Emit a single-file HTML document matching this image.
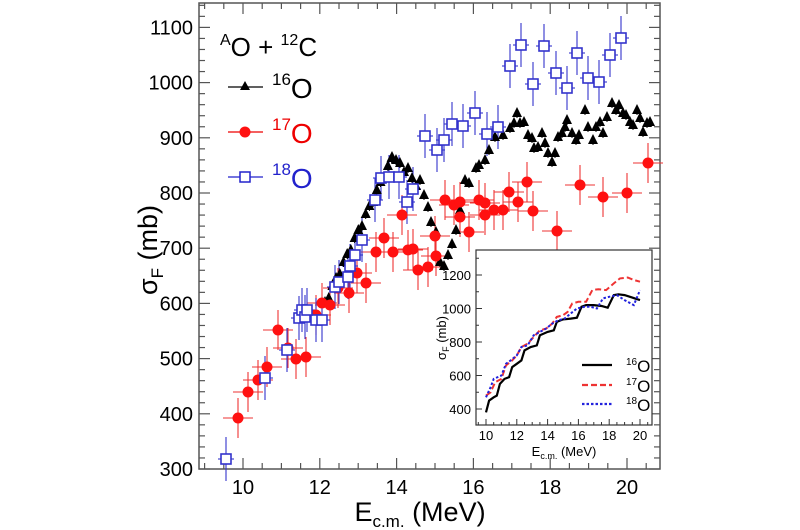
<!DOCTYPE html>
<html><head><meta charset="utf-8"><style>
html,body{margin:0;padding:0;background:#fff;width:800px;height:530px;overflow:hidden}
svg{display:block;font-family:"Liberation Sans",Arial,sans-serif}
</style></head><body>
<svg id="s" width="800" height="530" viewBox="0 0 800 530" xmlns="http://www.w3.org/2000/svg">
<rect x="199" y="3" width="461" height="466" fill="none" stroke="#555" stroke-width="1.5"/>
<g id="ticks" stroke="#555" stroke-width="1.2"></g>
<g font-size="20" fill="#000" text-anchor="end" id="ylab"></g>
<g font-size="20" fill="#000" text-anchor="middle" id="xlab"></g>
<text x="420" y="521" font-size="27" text-anchor="middle">E<tspan font-size="17" dy="6">c.m.</tspan><tspan dy="-6"> (MeV)</tspan></text>
<text transform="translate(157,250) rotate(-90)" font-size="27" text-anchor="middle">σ<tspan font-size="17" dy="6">F</tspan><tspan dy="-6"> (mb)</tspan></text>
<text x="220" y="56" font-size="26"><tspan font-size="16" dy="-11">A</tspan><tspan dy="11">O + </tspan><tspan font-size="16" dy="-11">12</tspan><tspan dy="11">C</tspan></text>
<g id="data"></g>
<g id="leg"></g>
<rect x="476" y="250" width="176" height="175" fill="#fff" stroke="#333" stroke-width="1.2"/>
<g id="inset"></g>
</svg>
<script>
const NS="http://www.w3.org/2000/svg";
function el(p,t,a,txt){const e=document.createElementNS(NS,t);for(const k in a)e.setAttribute(k,a[k]);if(txt!==undefined)e.textContent=txt;document.getElementById(p).appendChild(e);return e;}
const X=E=>243+(E-10)*38.4, Y=v=>469-(v-300)*0.552;
for(let E=9;E<=20.8;E+=0.5){const x=X(E);const maj=Math.abs(E/2-Math.round(E/2))<1e-6;const L=maj?11:6;
 el("ticks","line",{x1:x,y1:469,x2:x,y2:469-L});el("ticks","line",{x1:x,y1:3,x2:x,y2:3+L});
 if(maj)el("xlab","text",{x:x,y:494},String(E));}
for(let v=300;v<=1140;v+=20){const y=Y(v);const maj=v%100==0;const L=maj?11:6;
 el("ticks","line",{x1:199,y1:y,x2:199+L,y2:y});el("ticks","line",{x1:660,y1:y,x2:660-L,y2:y});
 if(maj)el("ylab","text",{x:193,y:y+7},String(v));}
const red=[[238,418],[248,392],[258,380],[267,367],[278,330],[288,348],[296,359],[306,357],[316,315],[322,303],[330,305],[338,288],[349,293],[357,273],[366,283],[376,252],[384,238],[393,252],[402,215],[408,250],[413,249],[418,270],[428,267],[436,256],[435,236],[445,200],[454,205],[460,202],[460,217],[469,232],[479,200],[485,203],[494,210],[485,215],[509,192],[503,210],[518,202],[527,182],[533,211],[557,231],[580,185],[603,197],[627,193],[648,163]];
const blue=[[226,459],[265,378],[287,350],[299,318],[302,310],[316,320],[305,317],[307,310],[322,320],[335,287],[339,282],[348,277],[350,266],[355,255],[362,240],[375,200],[381,178],[389,177],[399,177],[407,202],[413,189],[425,136],[437,150],[444,140],[452,124],[463,126],[475,113],[487,134],[498,127],[510,66],[521,45],[533,84],[544,46],[556,73],[567,88],[577,53],[588,78],[599,82],[610,55],[621,38]];
const blk=[];
for(let i=0;i<=18;i++){blk.push([325+i*3.7,302-i*8+(i%3==1?4:0)]);}
[[392,157],[396,160],[400,163],[404,172],[408,168],[412,178],[416,186],[420,180],[424,195],[428,207],[431,222],[436,232],[440,262],[444,266],[448,255],[452,244],[456,230],[460,210],[465,180],[469,183],[476,168],[479,165],[485,160],[489,150],[495,137],[499,127],[503,135],[510,128],[514,123],[517,113],[520,123],[524,122],[528,135],[532,138],[534,148],[538,147],[542,133],[545,143],[548,153],[552,162],[555,153],[558,137],[562,133],[565,127],[567,120],[572,133],[576,140],[579,135],[585,110],[588,127],[593,140],[596,127],[600,122],[603,133],[607,117],[612,103],[616,110],[619,105],[623,113],[626,115],[630,122],[633,125],[637,110],[640,118],[643,132],[647,123],[650,122]].forEach(p=>blk.push(p));
red.forEach(([x,y])=>{el("data","line",{x1:x-15,y1:y,x2:x+15,y2:y,stroke:"#e33","stroke-width":1.1});el("data","line",{x1:x,y1:y-20,x2:x,y2:y+20,stroke:"#e33","stroke-width":1.1});});
blue.forEach(([x,y])=>{el("data","line",{x1:x-8,y1:y,x2:x+8,y2:y,stroke:"#33c","stroke-width":1.1});el("data","line",{x1:x,y1:y-22,x2:x,y2:y+22,stroke:"#33c","stroke-width":1.1});});
blk.forEach(([x,y])=>{el("data","line",{x1:x,y1:y-5,x2:x,y2:y+5,stroke:"#000","stroke-width":1});el("data","path",{d:`M${x},${y-6}L${x+5},${y+4}L${x-5},${y+4}Z`,fill:"#000"});});
red.forEach(([x,y])=>el("data","circle",{cx:x,cy:y,r:5.5,fill:"#f11"}));
blue.forEach(([x,y])=>el("data","rect",{x:x-5,y:y-5,width:10,height:10,fill:"#fff",stroke:"#33c","stroke-width":1.6}));
const lg=[[87,"#000","16"],[132,"#e00","17"],[177,"#22c","18"]];
lg.forEach(([y,c,n],i)=>{el("leg","line",{x1:228,y1:y,x2:263,y2:y,stroke:c,"stroke-width":1.3});
 if(i==0)el("leg","path",{d:`M245,${y-6}L250,${y+3}L240,${y+3}Z`,fill:c});
 if(i==1)el("leg","circle",{cx:245,cy:y,r:5.5,fill:"#f11"});
 if(i==2)el("leg","rect",{x:240,y:y-5,width:10,height:10,fill:"#fff",stroke:c,"stroke-width":1.5});
 const t=el("leg","text",{x:272,y:y+11,"font-size":28,fill:c});t.innerHTML=`<tspan font-size="17" dy="-13">${n}</tspan><tspan dy="13">O</tspan>`;});
const IX=E=>486+(E-10)*15.4, IY=v=>409-(v-400)*0.1675;
for(let E=9.5;E<=20.6;E+=0.5){const x=IX(E);const maj=Math.abs(E/2-Math.round(E/2))<1e-6;const L=maj?6:3;
 el("inset","line",{x1:x,y1:425,x2:x,y2:425-L,stroke:"#333"});
 if(maj)el("inset","text",{x:x,y:440,"font-size":13,"text-anchor":"middle"},String(E));}
for(let v=300;v<=1340;v+=100){const y=IY(v);if(y<250||y>425)continue;const maj=v%200==0;
 el("inset","line",{x1:476,y1:y,x2:476+(maj?6:3),y2:y,stroke:"#333"});
 if(maj)el("inset","text",{x:471,y:y+5,"font-size":13,"text-anchor":"end"},String(v));}
let t=el("inset","text",{x:564,y:456,"font-size":13,"text-anchor":"middle"});t.innerHTML='E<tspan font-size="9" dy="3">c.m.</tspan><tspan dy="-3"> (MeV)</tspan>';
t=el("inset","text",{transform:"translate(446,338) rotate(-90)","font-size":13,"text-anchor":"middle"});t.innerHTML='σ<tspan font-size="9" dy="3">F</tspan><tspan dy="-3"> (mb)</tspan>';
const cb=[[10,380],[10.2,450],[10.5,470],[10.7,480],[10.9,550],[11.2,580],[11.5,590],[11.7,650],[12,670],[12.3,690],[12.5,750],[12.9,770],[13.3,780],[13.5,840],[14,860],[14.4,870],[14.6,920],[15,935],[15.5,940],[15.9,945],[16.2,1010],[16.5,1020],[17,1020],[17.5,1015],[17.9,1005],[18.3,1080],[18.6,1085],[19,1080],[19.5,1065],[20,1050]];
const cr=[[10,480],[10.3,500],[10.6,560],[11,580],[11.3,660],[11.7,690],[12,720],[12.3,770],[12.7,790],[13.1,830],[13.5,870],[13.9,880],[14.3,910],[14.6,950],[15,960],[15.3,980],[15.6,1030],[16,1040],[16.5,1040],[16.9,1110],[17.3,1115],[17.8,1110],[18.3,1150],[18.7,1180],[19.2,1185],[19.6,1170],[20,1160]];
const cbl=[[10,470],[10.3,530],[10.5,580],[11,600],[11.3,670],[11.6,690],[12,720],[12.3,770],[12.7,780],[13.1,840],[13.5,860],[13.9,880],[14.3,910],[14.7,930],[15.1,940],[15.5,970],[15.9,1000],[16.4,1010],[16.8,1010],[17.2,1000],[17.6,1060],[18,1070],[18.5,1080],[19,1050],[19.6,1020],[20,1110]];
const P=a=>a.map((p,i)=>(i?"L":"M")+IX(p[0]).toFixed(1)+","+IY(p[1]).toFixed(1)).join("");
el("inset","path",{d:P(cb),fill:"none",stroke:"#000","stroke-width":2.2});
el("inset","path",{d:P(cr),fill:"none",stroke:"#e33","stroke-width":2,"stroke-dasharray":"6,3"});
el("inset","path",{d:P(cbl),fill:"none",stroke:"#22d","stroke-width":2,"stroke-dasharray":"2.5,2"});
[[365,"#000",""],[385,"#e33","6,3"],[404,"#22d","2.5,2"]].forEach(([y,c,d],i)=>{
 el("inset","line",{x1:582,y1:y,x2:612,y2:y,stroke:c,"stroke-width":2.2,"stroke-dasharray":d});
 const tt=el("inset","text",{x:626,y:y+7,"font-size":17});tt.innerHTML=`<tspan font-size="10" dy="-7">${["16","17","18"][i]}</tspan><tspan dy="7">O</tspan>`;});
</script>
</body></html>
